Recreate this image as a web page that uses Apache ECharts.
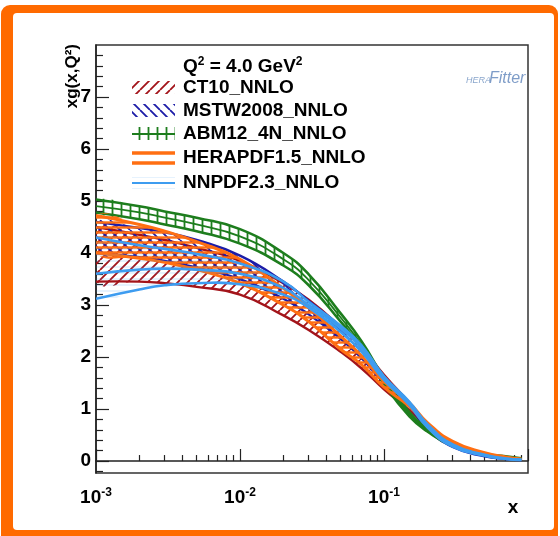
<!DOCTYPE html>
<html><head><meta charset="utf-8">
<script src="https://cdn.jsdelivr.net/npm/echarts@6/dist/echarts.min.js"></script>
<style>html,body{margin:0;padding:0;background:#fff}#c{width:560px;height:536px}</style>
</head><body><div id="c"></div>
<script>
// ---- data ----
const xVals   = [0.001,0.002,0.003,0.005,0.01,0.02,0.03,0.05,0.07,0.1,0.15,0.2,0.3,0.5,0.7,0.9];
const ct10Lo  = [3.45,3.45,3.42,3.35,3.20,2.80,2.52,2.10,1.78,1.38,0.98,0.66,0.31,0.11,0.05,0.03];
const ct10Hi  = [4.50,4.35,4.25,4.10,3.85,3.42,3.10,2.58,2.18,1.66,1.12,0.72,0.35,0.14,0.07,0.04];
const mstwLo  = [4.00,3.92,3.85,3.72,3.50,3.12,2.82,2.35,1.98,1.50,1.05,0.62,0.27,0.09,0.04,0.02];
const mstwHi  = [4.60,4.48,4.40,4.25,3.95,3.45,3.08,2.58,2.18,1.60,1.12,0.68,0.31,0.12,0.06,0.03];
const abmLo   = [4.78,4.65,4.55,4.42,4.18,3.76,3.38,2.68,2.17,1.48,0.86,0.57,0.29,0.12,0.07,0.04];
const abmMid  = [4.90,4.78,4.68,4.55,4.32,3.88,3.48,2.76,2.23,1.54,0.90,0.60,0.31,0.13,0.08,0.05];
const abmHi   = [5.03,4.90,4.80,4.68,4.46,4.00,3.59,2.84,2.30,1.60,0.94,0.63,0.33,0.14,0.09,0.055];
const heraLo  = [4.00,3.90,3.82,3.68,3.42,3.00,2.68,2.15,1.85,1.42,1.05,0.68,0.33,0.13,0.06,0.03];
const heraHi  = [4.72,4.55,4.42,4.22,3.88,3.32,2.95,2.40,2.02,1.53,1.12,0.74,0.38,0.16,0.08,0.04];
const nnpdfLo = [3.12,3.30,3.38,3.42,3.40,3.20,2.95,2.48,2.10,1.56,1.08,0.65,0.28,0.10,0.04,0.02];
const nnpdfMid= [3.60,3.68,3.70,3.68,3.60,3.33,3.00,2.55,2.16,1.60,1.11,0.68,0.30,0.11,0.045,0.025];
const nnpdfHi = [4.30,4.15,4.08,3.98,3.80,3.45,3.06,2.60,2.22,1.63,1.14,0.71,0.32,0.12,0.05,0.03];
const legendNames = ['CT10_NNLO','MSTW2008_NNLO','ABM12_4N_NNLO','HERAPDF1.5_NNLO','NNPDF2.3_NNLO'];
const xMajorTicks = [0.001,0.01,0.1,1];
const xLabelTicks = [0.001,0.01,0.1];
const yLabelTicks = [0,1,2,3,4,5,6,7];

// ---- styling ----
const C = {ct10:'#a3141a', mstw:'#1c1ca8', abm:'#1d7d1d', hera:'#ff6f12', nnpdf:'#3d9cf0', frame:'#ff6a00'};
function pat(color, kind, s, lw, bg){
  const c=document.createElement('canvas'); c.width=c.height=s;
  const g=c.getContext('2d');
  if(bg){g.fillStyle=bg; g.fillRect(0,0,s,s);}
  g.strokeStyle=color; g.lineWidth=lw; g.beginPath();
  if(kind==='/') for(const k of [-s,0,s]){g.moveTo(k,s); g.lineTo(k+s,0);}
  if(kind==='\\') for(const k of [-s,0,s]){g.moveTo(k,0); g.lineTo(k+s,s);}
  if(kind==='|'){g.moveTo(s/2,0); g.lineTo(s/2,s);}
  if(kind==='-'){g.moveTo(0,s/2); g.lineTo(s,s/2);}
  g.stroke();
  return {image:c, repeat:'repeat'};
}
const P = {
  ct10: pat(C.ct10,'/',10,1.8),
  mstw: pat(C.mstw,'\\',10,1.8),
  abm:  pat(C.abm,'|',9,1.8),
  hera: pat(C.hera,'-',5,2.4),
  nnpdf: pat('rgba(61,156,240,0.25)','-',6,1)
};
const SM = 0.5;
function band(key, lo, hi, w, mid, midW){
  return {
    type:'custom', coordinateSystem:'cartesian2d', xAxisIndex:0, yAxisIndex:0, silent:true, clip:true,
    data:xVals.map((x,i)=>[x, lo[i], hi[i]]),
    renderItem:(params, api)=>{
      if(params.dataIndex!==0) return null;
      const up = xVals.map((x,i)=>api.coord([x, hi[i]]));
      const dn = xVals.map((x,i)=>api.coord([x, lo[i]]));
      const kids = [
        {type:'polygon', shape:{points:up.concat(dn.slice().reverse()), smooth:SM}, style:{fill:P[key], stroke:null}},
        {type:'polyline', shape:{points:up, smooth:SM}, style:{stroke:C[key], lineWidth:w, fill:null}},
        {type:'polyline', shape:{points:dn, smooth:SM}, style:{stroke:C[key], lineWidth:w, fill:null}}
      ];
      if(mid){
        const md = xVals.map((x,i)=>api.coord([x, mid[i]]));
        kids.push({type:'polyline', shape:{points:md, smooth:SM}, style:{stroke:C[key], lineWidth:midW, fill:null}});
      }
      return {type:'group', children:kids};
    }
  };
}
const series = [
  band('ct10', ct10Lo, ct10Hi, 2.4),
  band('mstw', mstwLo, mstwHi, 2.4),
  band('abm', abmLo, abmHi, 2.6, abmMid, 1.8),
  band('hera', heraLo, heraHi, 3),
  band('nnpdf', nnpdfLo, nnpdfHi, 2.6, nnpdfMid, 2.6)
];

const xMinor=[]; for(const d of [0.001,0.01,0.1]) for(let k=2;k<=9;k++) xMinor.push(+(k*d).toPrecision(3));
const yMinor=[]; for(let i=-1;i<40;i++){ if(i%5!==0) yMinor.push(+(i*0.2).toFixed(1)); }

const font='Liberation Sans';
const legendY=[88,111,134,158,183];
const legendKeys=['ct10','mstw','abm','hera','nnpdf'];
const graphics=[
  {type:'rect', z:-10, shape:{x:1,y:5,width:557,height:545,r:9}, style:{fill:C.frame}},
  {type:'rect', z:-9, shape:{x:13,y:13,width:541,height:517,r:4}, style:{fill:'#fff'}},
  {type:'text', left:183, top:56, style:{text:'{t|Q}{s|2}{t| = 4.0 GeV}{s|2}', font:'bold 19px '+font,
    rich:{t:{fontSize:19,fontWeight:'bold',fontFamily:font,fill:'#000'},
          s:{fontSize:12,fontWeight:'bold',fontFamily:font,fill:'#000',padding:[0,0,9,0]}}}},
  {type:'text', x:72, y:44, rotation:Math.PI/2, style:{text:'xg(x,Q\u00b2)', font:'bold 17px '+font, fill:'#000', align:'right', verticalAlign:'middle'}},
  {type:'text', x:513, y:508, style:{text:'x', font:'bold 19px '+font, fill:'#000', align:'center', verticalAlign:'middle'}},
  {type:'text', x:466, y:80, style:{text:'HERA', font:'italic 9px '+font, fill:'#8aa6cc', verticalAlign:'middle'}},
  {type:'text', x:489, y:79, style:{text:'Fitter', font:'italic 16px '+font, fill:'#7f9dc8', verticalAlign:'middle'}}
];
legendKeys.forEach((k,i)=>{
  const y=legendY[i];
  graphics.push({type:'text', x:183, y:y, style:{text:legendNames[i], font:'bold 19px '+font, fill:'#000', verticalAlign:'middle'}});
  if(k==='ct10'||k==='mstw'){
    graphics.push({type:'rect', shape:{x:132,y:y-7,width:43,height:13}, style:{fill:P[k]}});
  } else if(k==='abm'){
    graphics.push({type:'rect', shape:{x:132,y:y-7,width:43,height:13}, style:{fill:P.abm}});
    graphics.push({type:'line', shape:{x1:132,y1:y,x2:175,y2:y}, style:{stroke:C.abm,lineWidth:2}});
  } else if(k==='hera'){
    graphics.push({type:'line', shape:{x1:132,y1:y-5,x2:175,y2:y-5}, style:{stroke:C.hera,lineWidth:3.5}});
    graphics.push({type:'line', shape:{x1:132,y1:y+5,x2:175,y2:y+5}, style:{stroke:C.hera,lineWidth:3.5}});
  } else {
    graphics.push({type:'rect', shape:{x:132,y:y-6,width:43,height:12}, style:{fill:P.nnpdf}});
    graphics.push({type:'line', shape:{x1:132,y1:y,x2:175,y2:y}, style:{stroke:C.nnpdf,lineWidth:2}});
  }
});

const chart=echarts.init(document.getElementById('c'),null,{renderer:'canvas'});
chart.setOption({
  animation:false,
  backgroundColor:'transparent',
  grid:{left:96,right:32,top:45,bottom:63,show:true,borderColor:'#333',borderWidth:1.5,backgroundColor:'#fff'},
  xAxis:[
    {type:'log', logBase:10, min:0.001, max:1, splitLine:{show:false},
     axisLine:{lineStyle:{color:'#222',width:1.5}},
     axisTick:{inside:true,length:12,lineStyle:{color:'#222',width:1.2},customValues:xMajorTicks},
     axisLabel:{customValues:xLabelTicks, margin:14,
       formatter:v=>'{b|10}{s|'+Math.round(Math.log10(v))+'}',
       rich:{b:{fontSize:19,fontWeight:'bold',fontFamily:font,color:'#000'},
             s:{fontSize:12,fontWeight:'bold',fontFamily:font,color:'#000',padding:[0,0,9,0]}}}},
    {type:'log', logBase:10, min:0.001, max:1, position:'bottom', splitLine:{show:false},
     axisLine:{show:false}, axisLabel:{show:false},
     axisTick:{inside:true,length:6,lineStyle:{color:'#222',width:1.2},customValues:xMinor}}
  ],
  yAxis:[
    {type:'value', min:-0.23, max:8, position:'left', splitLine:{show:false},
     axisLine:{show:true,lineStyle:{color:'#222',width:1.5}},
     axisTick:{inside:true,length:13,lineStyle:{color:'#222',width:1.2},customValues:yLabelTicks},
     axisLabel:{customValues:yLabelTicks, margin:5, fontSize:19, fontWeight:'bold', fontFamily:font, color:'#000'}},
    {type:'value', min:-0.23, max:8, position:'left', offset:0, splitLine:{show:false},
     axisLine:{show:false}, axisLabel:{show:false},
     axisTick:{inside:true,length:7,lineStyle:{color:'#222',width:1.2},customValues:yMinor}}
  ],
  series:series,
  graphic:graphics
});
</script></body></html>
